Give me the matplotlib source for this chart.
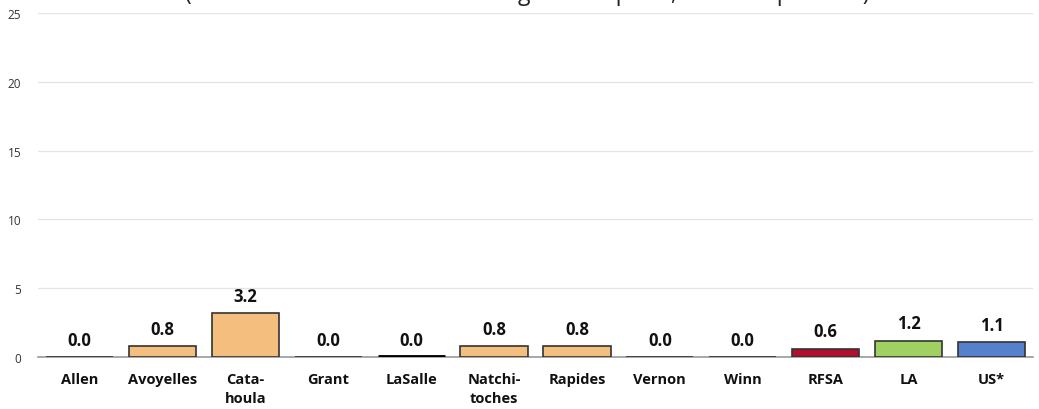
import matplotlib.pyplot as plt

plt.rcParams.update({
    "font.family": ["Open Sans", "DejaVu Sans"],
    "figure.dpi": 100,
})

# data
CATEGORIES = ["Allen", "Avoyelles", "Cata-\nhoula", "Grant", "LaSalle", "Natchi-\ntoches",
              "Rapides", "Vernon", "Winn", "RFSA", "LA", "US*"]
VALUES = [0.0, 0.8, 3.2, 0.0, 0.0, 0.8, 0.8, 0.0, 0.0, 0.6, 1.2, 1.1]
LABELS = ["0.0", "0.8", "3.2", "0.0", "0.0", "0.8", "0.8", "0.0", "0.0", "0.6", "1.2", "1.1"]
Y_TICKS = [0, 5, 10, 15, 20, 25]
SUBTITLE = "(Deaths of children and teens aged 1-19 per 1,000 total persons)"

ORANGE = "#F4BE7E"
COLORS = [ORANGE] * 9 + ["#B0102E", "#A0D062", "#5580CC"]
COLORS[4] = "#111111"  # LaSalle drawn dark in the reference

fig = plt.figure(figsize=(10.39, 4.10))
ax = fig.add_axes([0.0366, 0.1268, 0.9576, 0.839])

x = range(len(CATEGORIES))
bars = ax.bar(x, VALUES, width=0.81, color=COLORS, edgecolor="#333333", linewidth=1.2, zorder=3)
bars[4].set_linewidth(3.5)
bars[4].set_edgecolor("#000000")

for xi, v, lab in zip(x, VALUES, LABELS):
    ax.annotate(lab, (xi, v), xytext=(0, 6), textcoords="offset points",
                ha="center", va="bottom", fontsize=12, fontweight="bold", color="#111111")

ax.set_ylim(0, 25)
ax.set_xlim(-0.5, len(CATEGORIES) - 0.5)
ax.set_yticks(Y_TICKS)
ax.set_yticklabels([str(t) for t in Y_TICKS], fontsize=8.5, color="#333333")
ax.set_xticks(list(x))
ax.set_xticklabels(CATEGORIES, fontsize=10.5, fontweight="bold", color="#111111", linespacing=1.45)
ax.tick_params(axis="both", length=0)
ax.tick_params(axis="x", pad=11)
ax.tick_params(axis="y", pad=12)

ax.grid(axis="y", color="#E3E3E3", linewidth=0.9, zorder=0)
for side in ["left", "right", "top"]:
    ax.spines[side].set_visible(False)
ax.spines["bottom"].set_color("#999999")
ax.spines["bottom"].set_linewidth(1.2)
ax.spines["bottom"].set_zorder(2)

# subtitle clipped by the top edge, as in the reference
fig.text(0.5075, 1.001, SUBTITLE, ha="center", va="baseline", fontsize=16.5, color="#222222")

fig.savefig("out.png", dpi=100)
